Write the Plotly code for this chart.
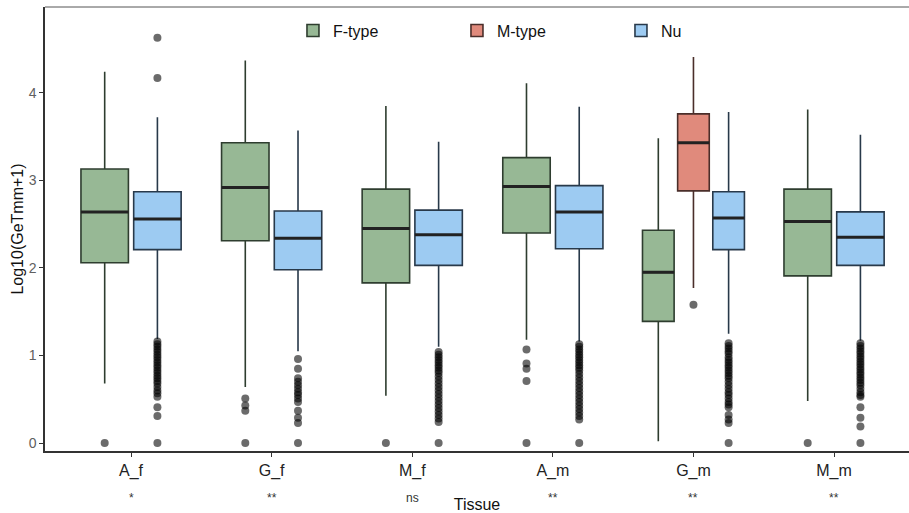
import plotly.graph_objects as go

# Tissues on the x axis and the significance mark printed under each one
tissues = ["A_f", "G_f", "M_f", "A_m", "G_m", "M_m"]
significance = ["*", "**", "ns", "**", "**", "**"]

series_names = ["F-type", "M-type", "Nu"]

# Box statistics per tissue (log10(GeTmm+1)); None = type absent in that tissue
f_lower = [0.68, 0.64, 0.54, 1.18, 0.02, 0.48]
f_q1 = [2.06, 2.31, 1.83, 2.40, 1.39, 1.91]
f_median = [2.64, 2.92, 2.45, 2.93, 1.95, 2.53]
f_q3 = [3.13, 3.43, 2.90, 3.26, 2.43, 2.90]
f_upper = [4.24, 4.37, 3.85, 4.11, 3.48, 3.81]

m_lower = [None, None, None, None, 1.77, None]
m_q1 = [None, None, None, None, 2.88, None]
m_median = [None, None, None, None, 3.43, None]
m_q3 = [None, None, None, None, 3.76, None]
m_upper = [None, None, None, None, 4.41, None]

nu_lower = [1.19, 1.05, 1.10, 1.16, 1.25, 1.17]
nu_q1 = [2.21, 1.98, 2.03, 2.22, 2.21, 2.03]
nu_median = [2.56, 2.34, 2.38, 2.64, 2.57, 2.35]
nu_q3 = [2.87, 2.65, 2.66, 2.94, 2.87, 2.64]
nu_upper = [3.72, 3.57, 3.44, 3.84, 3.78, 3.52]

# Outlying genes per tissue
f_outliers = [
    [0.0],
    [0.51, 0.43, 0.37, 0.0],
    [0.0],
    [1.07, 0.91, 0.85, 0.71, 0.0],
    [],
    [0.0],
]
m_outliers = [[], [], [], [], [1.58], []]
nu_outliers = [
    [4.63, 4.17, 1.16, 1.13, 1.10, 1.07, 1.04, 1.01, 0.98, 0.95, 0.92, 0.89, 0.86,
     0.83, 0.80, 0.77, 0.74, 0.71, 0.68, 0.64, 0.60, 0.57, 0.53, 0.41, 0.31, 0.0],
    [0.96, 0.85, 0.74, 0.70, 0.66, 0.62, 0.58, 0.55, 0.51, 0.47, 0.37, 0.29, 0.23, 0.0],
    [1.04, 1.01, 0.98, 0.95, 0.92, 0.89, 0.86, 0.83, 0.80, 0.76, 0.72, 0.68, 0.64,
     0.60, 0.56, 0.52, 0.48, 0.44, 0.40, 0.36, 0.32, 0.28, 0.24, 0.0],
    [1.13, 1.10, 1.07, 1.04, 1.01, 0.98, 0.95, 0.92, 0.89, 0.86, 0.83, 0.79, 0.75,
     0.71, 0.67, 0.63, 0.59, 0.55, 0.51, 0.47, 0.43, 0.39, 0.35, 0.31, 0.27, 0.0],
    [1.14, 1.11, 1.08, 1.05, 1.02, 0.98, 0.95, 0.92, 0.89, 0.86, 0.83, 0.80, 0.77,
     0.74, 0.70, 0.66, 0.62, 0.58, 0.55, 0.51, 0.47, 0.44, 0.41, 0.32, 0.27, 0.23, 0.0],
    [1.14, 1.11, 1.08, 1.05, 1.02, 0.99, 0.96, 0.93, 0.90, 0.87, 0.84, 0.81, 0.78,
     0.75, 0.72, 0.69, 0.66, 0.62, 0.58, 0.55, 0.53, 0.41, 0.29, 0.19, 0.0],
]

fill_colors = {"F-type": "#97b895", "M-type": "#e08a7c", "Nu": "#9dcbf2"}
line_colors = {"F-type": "#2e3d2f", "M-type": "#4a2e2a", "Nu": "#28394a"}

stats = {
    "F-type": (f_lower, f_q1, f_median, f_q3, f_upper, f_outliers),
    "M-type": (m_lower, m_q1, m_median, m_q3, m_upper, m_outliers),
    "Nu": (nu_lower, nu_q1, nu_median, nu_q3, nu_upper, nu_outliers),
}

DODGE = 0.75
positions = list(range(1, len(tissues) + 1))

fig = go.Figure()
legend_done = set()
median_traces = []
outlier_traces = []

for ti, tissue in enumerate(tissues):
    present = [s for s in series_names if stats[s][2][ti] is not None]
    n = len(present)
    slot = DODGE / n
    width = 0.9 * slot
    for k, s in enumerate(present):
        lo, q1, med, q3, up, outl = stats[s]
        cx = positions[ti] + (k - (n - 1) / 2) * slot
        fig.add_trace(go.Box(
            x=[cx], q1=[q1[ti]], median=[med[ti]], q3=[q3[ti]],
            lowerfence=[lo[ti]], upperfence=[up[ti]],
            width=width, whiskerwidth=0, boxpoints=False,
            fillcolor=fill_colors[s],
            line=dict(color=line_colors[s], width=1.6),
            name=s, legendgroup=s, showlegend=s not in legend_done,
            legendrank=series_names.index(s) + 1,
            hoverinfo="skip",
        ))
        legend_done.add(s)
        median_traces.append(go.Scatter(
            x=[cx - width / 2, cx + width / 2], y=[med[ti], med[ti]],
            mode="lines", line=dict(color="#222222", width=3),
            showlegend=False, hoverinfo="skip",
        ))
        if outl[ti]:
            outlier_traces.append(go.Scatter(
                x=[cx] * len(outl[ti]), y=outl[ti], mode="markers",
                marker=dict(size=8, color="rgba(0,0,0,0.58)", line=dict(width=0)),
                showlegend=False, hoverinfo="skip",
            ))

for tr in median_traces + outlier_traces:
    fig.add_trace(tr)

# Significance marks beneath the tissue labels
for p, sig in zip(positions, significance):
    fig.add_annotation(
        x=p, y=-0.106, xref="x", yref="paper", text=sig, showarrow=False,
        font=dict(size=12, color="#333333"), yanchor="middle",
    )

font_family = "Liberation Sans, Arial, sans-serif"

fig.update_layout(
    template="none",
    width=909, height=513,
    margin=dict(l=45, r=0, t=7, b=62),
    paper_bgcolor="white", plot_bgcolor="white",
    font=dict(family=font_family, size=15, color="#222222"),
    boxmode="overlay",
    showlegend=True,
    legend=dict(
        orientation="h", x=0.287, xanchor="left", y=0.985, yanchor="top",
        font=dict(size=16, color="#111111"), entrywidth=119, entrywidthmode="pixels",
        bgcolor="rgba(0,0,0,0)", traceorder="normal",
    ),
    xaxis=dict(
        range=[0.388, 6.533], tickmode="array", tickvals=positions, ticktext=tissues,
        showgrid=False, zeroline=False, showline=True, linecolor="#333333", linewidth=1.5,
        mirror=False, ticks="outside", ticklen=4, tickcolor="#333333",
        tickfont=dict(size=16, color="#222222"), automargin=False,
        title=dict(text="Tissue", font=dict(size=16, color="#111111"), standoff=30),
    ),
    yaxis=dict(
        range=[-0.09, 4.98], tickmode="array", tickvals=[0, 1, 2, 3, 4],
        ticktext=["0", "1", "2", "3", "4"],
        showgrid=False, zeroline=False, showline=True, linecolor="#333333", linewidth=1.5,
        ticks="outside", ticklen=4, tickcolor="#333333",
        tickfont=dict(size=14, color="#606060"), automargin=False,
        title=dict(text="Log10(GeTmm+1)", font=dict(size=16, color="#111111"), standoff=1),
    ),
)

# Thin frame line along the top of the panel
fig.add_shape(type="line", xref="paper", yref="paper", x0=0, x1=1, y0=1, y1=1,
              line=dict(color="#555555", width=1))

fig.write_html("out.html")
